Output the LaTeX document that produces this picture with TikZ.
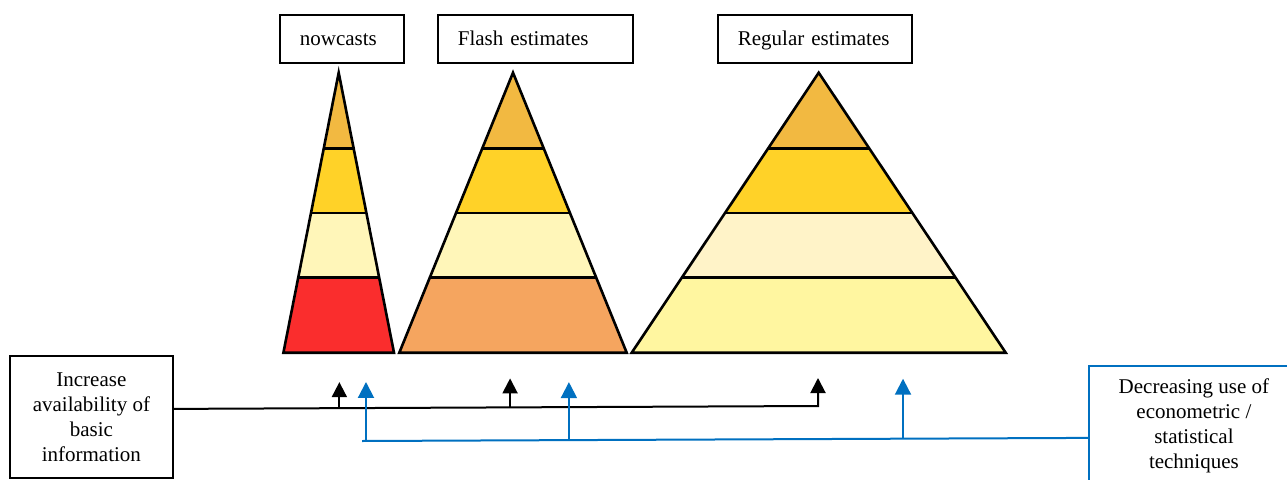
\documentclass[tikz,border=0pt]{standalone}
\usepackage{fontspec}
\setmainfont{Liberation Serif}
\usetikzlibrary{arrows.meta}

\definecolor{tiertop}{RGB}{242,185,65}
\definecolor{tiergold}{RGB}{255,210,40}
\definecolor{tierpale}{RGB}{255,246,185}
\definecolor{tierbeige}{RGB}{255,243,200}
\definecolor{nowred}{RGB}{250,45,45}
\definecolor{flashorange}{RGB}{245,165,95}
\definecolor{regyellow}{RGB}{255,246,160}
\definecolor{techblue}{RGB}{0,112,192}

\tikzset{
  labelbox/.style={draw, line width=1.8pt, minimum height=48pt, inner xsep=20pt,
    text height=16pt, text depth=2pt,
    align=left, anchor=north west, font=\fontsize{21}{25}\selectfont},
  sidebox/.style={draw, line width=1.8pt, align=center, anchor=north west,
    font=\fontsize{21}{25}\selectfont},
  tier/.style={draw=black, line width=2.6pt},
  infoline/.style={black, line width=2pt},
  infoarrow/.style={infoline, -{Triangle[width=15pt,length=15pt]}},
  techline/.style={techblue, line width=2pt},
  techarrow/.style={techline, -{Triangle[width=16pt,length=16pt]}},
}

\begin{document}
\begin{tikzpicture}[x=1pt, y=-1pt]
  \clip (0,0) rectangle (1287,479);
  \def\Top{72.7}
  \def\Base{352.7}

  % --- the three pyramids: apex x, half base, third and bottom tier colour ---
  \foreach \cx/\hw/\cmid/\cbot in {338.7/55.3/tierpale/nowred,
                                   513/113.7/tierpale/flashorange,
                                   818.7/187/tierbeige/regyellow} {
    \foreach \ya/\yb/\col in {\Top/148.3/tiertop, 148.3/213/tiergold,
                              213/277.3/\cmid, 277.3/\Base/\cbot} {
      \pgfmathsetmacro{\wa}{\hw/(\Base-\Top)*(\ya-\Top)}
      \pgfmathsetmacro{\wb}{\hw/(\Base-\Top)*(\yb-\Top)}
      \fill[\col] (\cx-\wa,\ya) -- (\cx+\wa,\ya) -- (\cx+\wb,\yb) -- (\cx-\wb,\yb) -- cycle;
    }
    \foreach \y in {148.3, 213, 277.3} {
      \pgfmathsetmacro{\w}{\hw/(\Base-\Top)*(\y-\Top)}
      \draw[tier] (\cx-\w,\y) -- (\cx+\w,\y);
    }
    \draw[tier] (\cx,\Top) -- (\cx+\hw,\Base) -- (\cx-\hw,\Base) -- cycle;
  }

  % --- titles ---
  \node[labelbox, text width=84pt] (nowcasts) at (279,14) {nowcasts};
  \node[labelbox, text width=155pt] (flash) at (437,14) {Flash estimates};
  \node[labelbox, text width=154pt] (regular) at (717,14) {Regular estimates};

  % --- side boxes ---
  \node[sidebox, minimum width=163pt, minimum height=122pt] (avail) at (9,355)
    {Increase\\availability of\\basic\\information};
  \node[sidebox, draw=techblue, minimum width=210pt, minimum height=120pt] (decrease) at (1088,365)
    {Decreasing use of\\econometric /\\statistical\\techniques};

  % --- basic information: black line and arrows ---
  \coordinate (infoend) at (818,406);
  \draw[infoarrow] ([yshift=8pt]avail.east) -- (infoend)
    coordinate[pos=0.257] (infoA) coordinate[pos=0.522] (infoB) -- ++(0,-28);
  \draw[infoarrow] (infoA) -- ++(0,-26);
  \draw[infoarrow] (infoB) -- ++(0,-29);

  % --- techniques: blue line and arrows ---
  \coordinate (techend) at (362,441);
  \draw[techline] ([yshift=-12pt]decrease.west) -- (techend)
    coordinate[pos=0.2548] (techC) coordinate[pos=0.715] (techB) coordinate[pos=0.9945] (techA);
  \draw[techarrow] (techA) -- ++(0,-59);
  \draw[techarrow] (techB) -- ++(0,-58);
  \draw[techarrow] (techC) -- ++(0,-60);
\end{tikzpicture}
\end{document}
